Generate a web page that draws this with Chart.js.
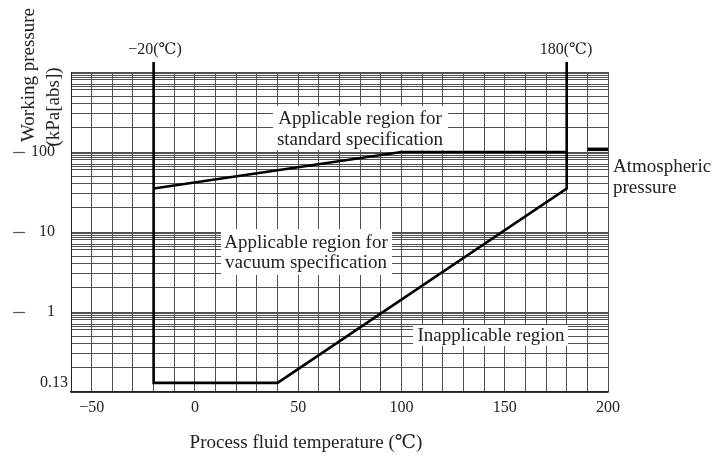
<!DOCTYPE html>
<html><head><meta charset="utf-8">
<script src="https://cdn.jsdelivr.net/npm/chart.js@4"></script>
<style>html,body{margin:0;padding:0;background:#fff;} canvas{display:block;}</style>
</head><body>
<canvas id="c" width="721" height="459"></canvas>
<script>
// ---- data ----
const vacuumTemp = [-20, -20, 40, 180, 180];
const vacuumPress = [1330, 0.13, 0.13, 35, 1330];
const standardTemp = [-20, 100, 180];
const standardPress = [35, 100, 100];
const atmTemp = [190, 200];
const atmPress = [108, 108];
const xTickLabels = [-50, 0, 50, 100, 150, 200];
const yTickLabels = [100, 10, 1, 0.13];
const decadeBases = [0.1, 1, 10, 100];
const decadeMarks = [10, 9.5, 9, 8.5, 8, 7, 6.5, 6, 5, 4, 3, 2];

const yGridValues = [0.1];
decadeBases.forEach(b => decadeMarks.forEach(m => yGridValues.push(+(b * m).toPrecision(4))));

const SERIF = '"Liberation Serif", "DejaVu Serif", serif';
const TXT = '#222';

function pts(xs, ys) { return xs.map((x, i) => ({x: x, y: ys[i]})); }

const deco = {
  id: 'deco',
  beforeDatasetsDraw(chart) {
    const ctx = chart.ctx;
    ctx.save();
    ctx.fillStyle = '#fff';
    ctx.fillRect(273, 106, 175, 44);
    ctx.fillRect(221, 229, 171, 46);
    ctx.fillRect(413, 325, 155, 21);
    ctx.fillStyle = TXT;
    ctx.font = '19px ' + SERIF;
    ctx.textAlign = 'center';
    ctx.textBaseline = 'middle';
    ctx.fillText('Applicable region for', 360, 119);
    ctx.fillText('standard specification', 360, 140);
    ctx.fillText('Applicable region for', 306, 243);
    ctx.fillText('vacuum specification', 306, 263);
    ctx.fillText('Inapplicable region', 491, 336);
    ctx.restore();
  },
  afterDraw(chart) {
    const ctx = chart.ctx;
    const ys = chart.scales.y;
    ctx.save();
    ctx.fillStyle = TXT;
    ctx.textBaseline = 'middle';
    ctx.font = '19px ' + SERIF;
    ctx.textAlign = 'left';
    ctx.fillText('Atmospheric', 613, 167);
    ctx.fillText('pressure', 613, 188);
    ctx.textAlign = 'center';
    ctx.fillText('Process fluid temperature (\u2103)', 306, 443);
    ctx.font = '16px ' + SERIF;
    ctx.fillText('\u221220(\u2103)', 155, 50);
    ctx.fillText('180(\u2103)', 566, 50);
    // y tick labels
    yTickLabels.forEach(v => {
      const py = ys.getPixelForValue(v);
      ctx.textAlign = 'right';
      if (v === 0.13) {
        ctx.fillText(String(v), 68, py);
      } else {
        ctx.fillText(String(v), 55, py);
        ctx.strokeStyle = '#555';
        ctx.lineWidth = 1.2;
        ctx.beginPath();
        ctx.moveTo(13, Math.round(py) + 0.5);
        ctx.lineTo(25, Math.round(py) + 0.5);
        ctx.stroke();
      }
    });
    // y title
    ctx.font = '19px ' + SERIF;
    ctx.textAlign = 'center';
    ctx.save();
    ctx.translate(29, 75);
    ctx.rotate(-Math.PI / 2);
    ctx.fillText('Working pressure', 0, 0);
    ctx.restore();
    ctx.save();
    ctx.translate(54, 107);
    ctx.rotate(-Math.PI / 2);
    ctx.fillText('(kPa[abs])', 0, 0);
    ctx.restore();
    ctx.restore();
  }
};

new Chart(document.getElementById('c'), {
  type: 'scatter',
  data: {
    datasets: [
      {data: pts(vacuumTemp, vacuumPress), showLine: true, borderColor: '#000', borderWidth: 2.6, pointRadius: 0, clip: false, tension: 0},
      {data: pts(standardTemp, standardPress), showLine: true, borderColor: '#000', borderWidth: 2.4, pointRadius: 0, tension: 0},
      {data: pts(atmTemp, atmPress), showLine: true, borderColor: '#000', borderWidth: 3.5, pointRadius: 0, tension: 0}
    ]
  },
  options: {
    responsive: false,
    animation: false,
    devicePixelRatio: 1,
    layout: {padding: {left: 0, top: 72, right: 113, bottom: 0}},
    plugins: {legend: {display: false}, tooltip: {enabled: false}},
    scales: {
      x: {
        type: 'linear', min: -60, max: 200,
        afterFit(s) { s.height = 67; },
        border: {display: true, color: '#222', width: 1.5},
        grid: {color: '#505050', lineWidth: 1, drawTicks: false},
        ticks: {
          stepSize: 10, autoSkip: false, maxRotation: 0, padding: 6,
          color: TXT, font: {family: SERIF, size: 16},
          callback: v => xTickLabels.includes(v) ? String(v).replace('-', '\u2212') : ''
        }
      },
      y: {
        type: 'logarithmic', min: 0.1, max: 1000,
        afterFit(s) { s.width = 71; },
        afterBuildTicks(s) { s.ticks = yGridValues.map(v => ({value: v})); },
        border: {display: true, color: '#222', width: 1},
        grid: {color: '#505050', lineWidth: 1, drawTicks: false},
        ticks: {display: false}
      }
    }
  },
  plugins: [deco]
});
</script>
</body></html>
